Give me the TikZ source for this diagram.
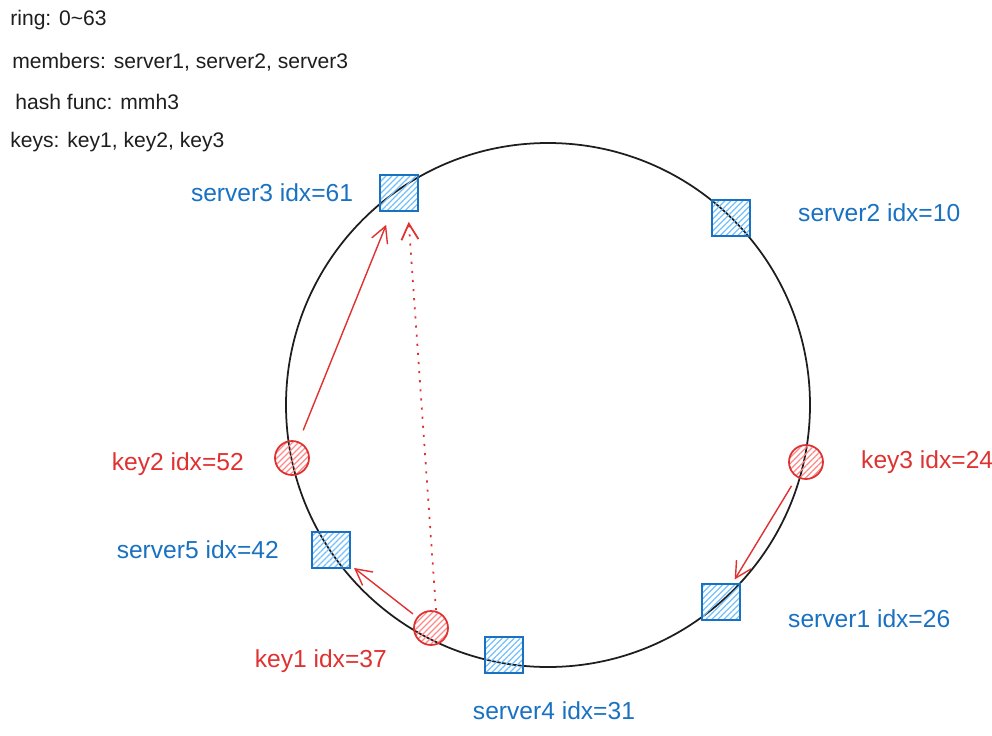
\documentclass[tikz,border=0pt]{standalone}
\usepackage{fontspec}
\setmainfont{Liberation Sans}
\usetikzlibrary{arrows.meta,positioning,patterns.meta}
\definecolor{ink}{HTML}{1E1E1E}
\definecolor{serverblue}{HTML}{1971C2}
\definecolor{serverhatch}{HTML}{74C0FC}
\definecolor{keyred}{HTML}{E03131}
\definecolor{keyhatch}{HTML}{FF8787}
\tikzset{
  server/.style={
    rectangle,
    draw=serverblue,
    line width=1pt,
    minimum width=0.76cm,
    minimum height=0.73cm,
    inner sep=0pt,
    pattern={Lines[angle=45,distance=2.4pt,line width=0.7pt]},
    pattern color=serverhatch
  },
  key/.style={
    circle,
    draw=keyred,
    line width=1pt,
    minimum size=0.68cm,
    inner sep=0pt,
    pattern={Lines[angle=45,distance=2.4pt,line width=0.7pt]},
    pattern color=keyhatch
  },
  serverlabel/.style={
    text=serverblue,
    inner sep=0pt,
    font=\fontsize{14}{16}\selectfont
  },
  keylabel/.style={
    serverlabel,
    text=keyred
  },
  note/.style={
    text=ink,
    anchor=west,
    inner sep=0pt,
    font=\fontsize{12}{14}\selectfont
  },
  link/.style={
    -{Straight Barb[length=3.2mm,width=3.4mm]},
    draw=keyred,
    line width=0.8pt
  },
  lookup/.style={
    link,
    line width=1pt,
    dash pattern=on 1.2pt off 4pt
  }
}

\begin{document}
\begin{tikzpicture}[x=0.02cm,y=-0.02cm]
  \useasboundingbox (0,0) rectangle (992,735);

  % header notes
  \node[note] (ring)    at (10,20)  {ring: 0\textasciitilde63};
  \node[note] (members) at (12,62)  {members: server1, server2, server3};
  \node[note] (hash)    at (15,102) {hash func: mmh3};
  \node[note] (keys)    at (10,142) {keys: key1, key2, key3};

  % the ring
  \draw[ink, line width=1pt] (548,405) circle [radius=262];

  % servers on the ring
  \node[server] (s3) at (399,193) {};
  \node[server] (s2) at (731,218) {};
  \node[server] (s1) at (721,602) {};
  \node[server] (s4) at (504,655) {};
  \node[server] (s5) at (331,550) {};

  % keys on the ring
  \node[key] (k3) at (806,462) {};
  \node[key] (k1) at (431,628) {};
  \node[key] (k2) at (292,458) {};

  \node[serverlabel, left=0.52cm of s3] {server3 idx=61};
  \node[serverlabel, right=0.94cm of s2, yshift=0.1cm] {server2 idx=10};
  \node[serverlabel, right=0.94cm of s1, yshift=-0.34cm] {server1 idx=26};
  \node[serverlabel, below=0.55cm of s4, xshift=1cm] {server4 idx=31};
  \node[serverlabel, left=0.64cm of s5] {server5 idx=42};

  \node[keylabel, right=0.74cm of k3] {key3 idx=24};
  \node[keylabel, left=0.52cm of k1, yshift=-0.66cm] {key1 idx=37};
  \node[keylabel, left=0.6cm of k2, yshift=-0.12cm] {key2 idx=52};

  % each key goes to the next server
  \draw[link, shorten <=0.24cm, shorten >=0.28cm] (k2) -- (s3);
  \draw[link, shorten <=0.1cm, shorten >=0.08cm] (k1) -- (s5);
  \draw[link, shorten <=0.2cm, shorten >=0.08cm] (k3) -- (s1);
  \draw[lookup, shorten >=0.2cm] ([xshift=0.1cm]k1.north) -- ([xshift=0.18cm]s3.south);
\end{tikzpicture}
\end{document}
